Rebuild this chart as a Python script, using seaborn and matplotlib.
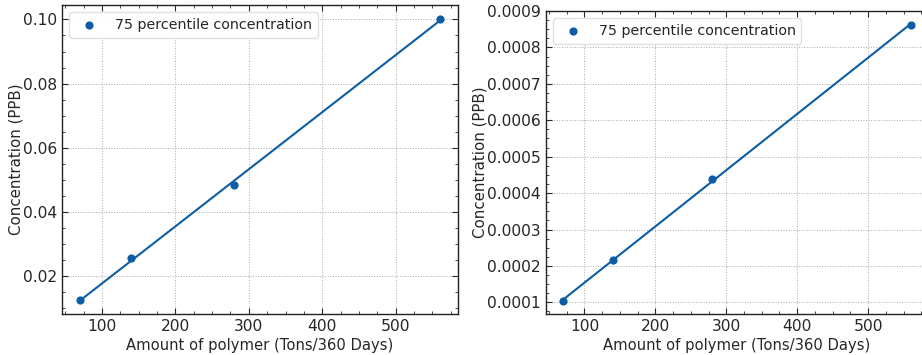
import matplotlib
matplotlib.use("Agg")
import matplotlib.pyplot as plt
import seaborn as sns
from matplotlib.ticker import AutoMinorLocator, MultipleLocator

# values
polymer_tons = [70, 140, 280, 560]
conc_left = [0.0125, 0.0255, 0.0485, 0.100]
conc_right = [0.000105, 0.000215, 0.000438, 0.000862]
series_label = "75 percentile concentration"
x_label = "Amount of polymer (Tons/360 Days)"
y_label = "Concentration (PPB)"

sns.set_style("ticks")
plt.rcParams["font.family"] = ["DejaVu Sans"]
plt.rcParams.update({
    "xtick.direction": "in",
    "ytick.direction": "in",
    "xtick.top": True,
    "ytick.right": True,
    "xtick.minor.visible": True,
    "ytick.minor.visible": True,
    "xtick.major.size": 4,
    "ytick.major.size": 4,
    "xtick.minor.size": 2,
    "ytick.minor.size": 2,
    "axes.edgecolor": "#222222",
    "axes.linewidth": 1.0,
})

COLOR = "#0C5DA5"

fig = plt.figure(figsize=(9.22, 3.55), dpi=100)
ax1 = fig.add_axes([0.0672, 0.1146, 0.4292, 0.8714])
ax2 = fig.add_axes([0.592, 0.1146, 0.4145, 0.8544])


def draw_panel(ax, y, ystep, ylab_x, xlab_y):
    sns.regplot(
        x=polymer_tons, y=y, ax=ax, ci=None, color=COLOR,
        label=series_label, truncate=True,
        scatter_kws={"s": 24, "zorder": 3, "alpha": 1},
        line_kws={"lw": 1.5},
    )
    ax.set_xlabel(x_label, fontsize=10.6)
    ax.set_ylabel(y_label, fontsize=10.8)
    ax.yaxis.set_label_coords(ylab_x, 0.5)
    ax.xaxis.set_label_coords(0.5, xlab_y)
    ax.xaxis.set_major_locator(MultipleLocator(100))
    ax.yaxis.set_major_locator(MultipleLocator(ystep))
    ax.xaxis.set_minor_locator(AutoMinorLocator(4))
    ax.yaxis.set_minor_locator(AutoMinorLocator(4))
    ax.tick_params(labelsize=11.2)
    ax.grid(True, which="major", linestyle=":", color="#aaaaaa", lw=0.7)
    ax.legend(loc="upper left", fontsize=10.3, frameon=True,
              edgecolor="#dddddd", framealpha=0.9)


draw_panel(ax1, conc_left, 0.02, -0.098, -0.075)
draw_panel(ax2, conc_right, 0.0001, -0.153, -0.077)
ax1.set_ylim(0.0081, 0.1045)
ax2.set_ylim(0.0000672, 0.0009)
ax1.yaxis.set_major_formatter(plt.FormatStrFormatter("%.2f"))
ax2.yaxis.set_major_formatter(plt.FormatStrFormatter("%.4f"))

fig.savefig("out.png", dpi=100)
